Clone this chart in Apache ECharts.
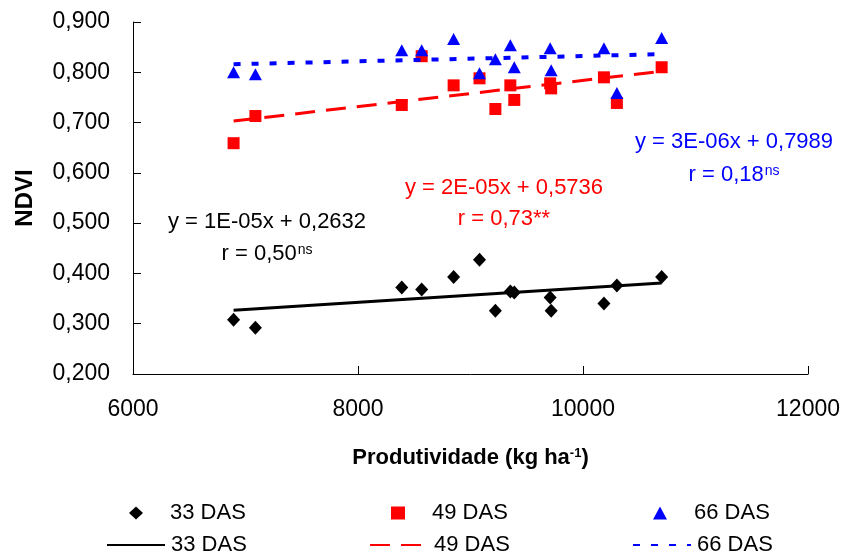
<!DOCTYPE html>
<html>
<head>
<meta charset="utf-8">
<script src="https://cdn.jsdelivr.net/npm/echarts@6/dist/echarts.min.js"></script>
<style>
  html, body { margin: 0; padding: 0; background: #fff; }
  #chart { width: 843px; height: 557px; }
</style>
</head>
<body>
<div id="chart"></div>
<script>
// Productivity (kg/ha) of each plot, shared by all three sampling dates
const productivity = [6894, 7088, 8389, 8566, 8850, 9080, 9221, 9354, 9389, 9708, 9717, 10186, 10301, 10699];
// NDVI readings per sampling date (days after sowing)
const ndvi33 = [0.308, 0.292, 0.372, 0.368, 0.393, 0.427, 0.326, 0.364, 0.362, 0.352, 0.326, 0.340, 0.376, 0.393];
const ndvi49 = [0.659, 0.713, 0.735, 0.832, 0.774, 0.788, 0.727, 0.774, 0.745, 0.778, 0.768, 0.790, 0.739, 0.810];
const ndvi66 = [0.800, 0.796, 0.844, 0.844, 0.866, 0.798, 0.826, 0.854, 0.810, 0.848, 0.804, 0.848, 0.759, 0.868];
// Linear trend end points (x range of the data)
const trendX = [6894, 10699];
const trend33 = [0.327, 0.381];
const trend49 = [0.703, 0.802];
const trend66 = [0.816, 0.836];
// Axis ticks
const xTicks = [6000, 8000, 10000, 12000];
const yTicks = [0.2, 0.3, 0.4, 0.5, 0.6, 0.7, 0.8, 0.9];
// Series labels
const scatterNames = ['33 DAS', '49 DAS', '66 DAS'];
const trendNames = ['33 DAS ', '49 DAS ', '66 DAS '];
// Regression annotations
const eqTexts = ['y = 1E-05x + 0,2632', 'y = 2E-05x + 0,5736', 'y = 3E-06x + 0,7989'];
const rTexts = ['r = 0,50', 'r = 0,73**', 'r = 0,18'];
const rSup = ['ns', '', 'ns'];

const FONT = '"Liberation Sans", Arial, sans-serif';
const colors = ['#000000', '#ff0000', '#0000ff'];

const pairs = (xs, ys) => xs.map((x, i) => [x, ys[i]]);

// width of a legend label, used to space the legend columns evenly
const measure = (() => {
  const ctx = document.createElement('canvas').getContext('2d');
  return (txt, size) => { ctx.font = size + 'px ' + FONT; return ctx.measureText(txt).width; };
})();

const chart = echarts.init(document.getElementById('chart'), null, { renderer: 'canvas' });

const scatterSymbols = ['diamond', 'rect', 'triangle'];
const scatterSizes = [[13, 14], [12, 12], [13, 12]];
const ndviSets = [ndvi33, ndvi49, ndvi66];
const trendSets = [trend33, trend49, trend66];
const lineStyles = [
  { width: 3, type: 'solid' },
  { width: 3, type: [20, 11] },
  { width: 4, type: [7, 11] }
];

const series = [];
ndviSets.forEach((vals, i) => {
  series.push({
    name: scatterNames[i],
    type: 'scatter',
    data: pairs(productivity, vals),
    symbol: scatterSymbols[i],
    symbolSize: scatterSizes[i],
    itemStyle: { color: colors[i], opacity: 1 },
    z: 2 + i,
    silent: true
  });
});
trendSets.forEach((vals, i) => {
  series.push({
    name: trendNames[i],
    type: 'line',
    data: pairs(trendX, vals),
    symbol: 'none',
    showSymbol: false,
    lineStyle: { color: colors[i], width: lineStyles[i].width, type: lineStyles[i].type },
    itemStyle: { color: colors[i], opacity: 0 },
    z: 10 + i,
    silent: true
  });
});

// Annotation centres (pixels)
const eqPos = [[267, 222], [504, 188], [734, 142]];
const rPos = [[267, 254], [504, 219], [734, 175]];

const graphics = [];
eqTexts.forEach((t, i) => {
  graphics.push({
    type: 'text',
    x: eqPos[i][0], y: eqPos[i][1],
    style: {
      text: t, fill: colors[i], font: '22px ' + FONT,
      align: 'center', verticalAlign: 'middle'
    }
  });
  const txt = rSup[i] ? '{m|' + rTexts[i] + '}{s|' + rSup[i] + '}' : '{m|' + rTexts[i] + '}';
  graphics.push({
    type: 'text',
    x: rPos[i][0], y: rPos[i][1],
    style: {
      text: txt, fill: colors[i],
      align: 'center', verticalAlign: 'middle',
      rich: {
        m: { fontSize: 22, fontFamily: FONT, fill: colors[i], color: colors[i] },
        s: { fontSize: 14, fontFamily: FONT, fill: colors[i], color: colors[i], verticalAlign: 'top', padding: [0, 0, 0, 1] }
      }
    }
  });
});

const LEG_SIZE = 22;
const COL_STEP = 262;
const labelW = measure('33 DAS', LEG_SIZE);

const legendText = { fontFamily: FONT, fontSize: LEG_SIZE, color: '#000' };

const option = {
  animation: false,
  backgroundColor: '#ffffff',
  grid: { left: 133, right: 32, top: 22, bottom: 183, containLabel: false },
  xAxis: {
    type: 'value',
    min: xTicks[0],
    max: xTicks[xTicks.length - 1],
    interval: xTicks[1] - xTicks[0],
    splitLine: { show: false },
    axisLine: { show: true, onZero: false, lineStyle: { color: '#000', width: 1 } },
    axisTick: { show: true, inside: true, length: 8, lineStyle: { color: '#000' } },
    axisLabel: { color: '#000', fontFamily: FONT, fontSize: 23, margin: 24, formatter: (v) => String(Math.round(v)) },
    name: '{b|Produtividade (kg ha}{s|-1}{b|)}',
    nameLocation: 'middle',
    nameGap: 73,
    nameTextStyle: {
      rich: {
        b: { fontFamily: FONT, fontSize: 22, fontWeight: 'bold', color: '#000' },
        s: { fontFamily: FONT, fontSize: 13, fontWeight: 'bold', color: '#000', verticalAlign: 'top' }
      }
    }
  },
  yAxis: {
    type: 'value',
    min: yTicks[0],
    max: yTicks[yTicks.length - 1],
    interval: 0.1,
    splitLine: { show: false },
    axisLine: { show: true, onZero: false, lineStyle: { color: '#000', width: 1 } },
    axisTick: { show: true, inside: true, length: 8, lineStyle: { color: '#000' } },
    axisLabel: {
      color: '#000', fontFamily: FONT, fontSize: 23, margin: 23,
      formatter: (v) => (Math.round(v * 1000) / 1000).toFixed(3).replace('.', ',')
    },
    name: 'NDVI',
    nameLocation: 'middle',
    nameGap: 96,
    nameTextStyle: { fontFamily: FONT, fontSize: 24, fontWeight: 'bold', color: '#000' }
  },
  legend: [
    {
      // marker row
      orient: 'horizontal', left: 129, top: 502, padding: 0,
      itemWidth: 14, itemHeight: 13,
      itemGap: COL_STEP - 14 - 5 - 22 - labelW,
      selectedMode: false,
      data: scatterNames,
      textStyle: Object.assign({ padding: [0, 0, 0, 22] }, legendText)
    },
    {
      // trend line row
      orient: 'horizontal', left: 106, top: 534, padding: 0,
      itemWidth: 58, itemHeight: 13,
      itemGap: COL_STEP - 58 - 5 - labelW - 1,
      selectedMode: false,
      formatter: (name) => name.trim(),
      data: trendNames,
      textStyle: Object.assign({ padding: [0, 0, 0, 1] }, legendText)
    }
  ],
  graphic: graphics,
  series: series
};

chart.setOption(option);
</script>
</body>
</html>
